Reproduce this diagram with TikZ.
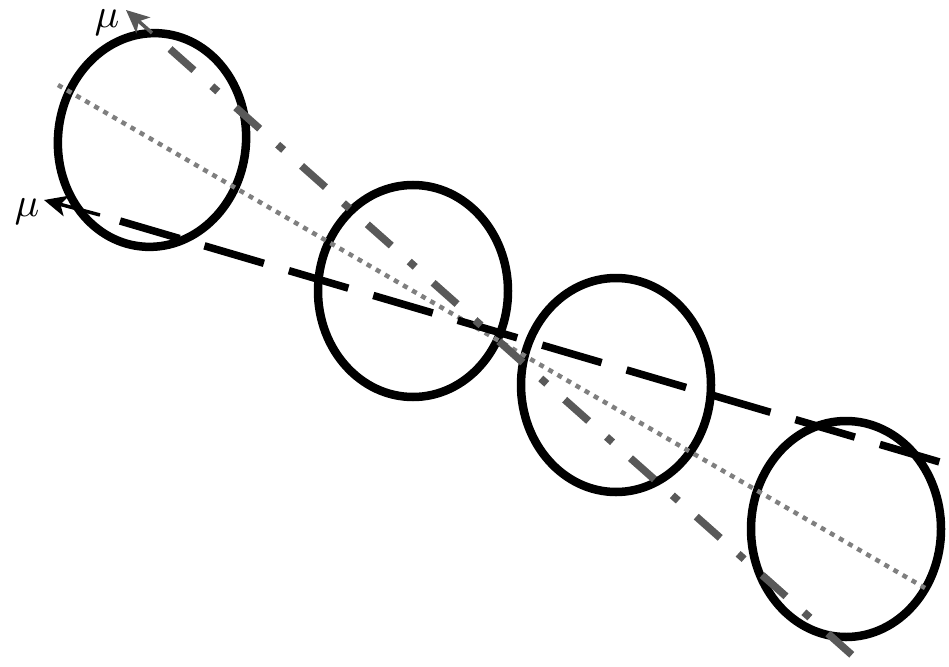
\documentclass[tikz,border=0pt]{standalone}
\usepackage{graphicx}
\usetikzlibrary{arrows.meta}
\definecolor{dgray}{HTML}{595959}
\definecolor{lgray}{HTML}{7F7F7F}
\tikzset{
  ring/.style={draw=black, line width=8.5pt},
  blackdash/.style={draw=black, line width=7.5pt, dash pattern=on 62pt off 26pt},
  graydashdot/.style={draw=dgray, line width=7.5pt, dash pattern=on 32pt off 24pt on 8pt off 24pt},
  graydot/.style={draw=lgray, line width=4.5pt, dash pattern=on 5pt off 5.5pt},
  muarrow/.style={line width=3.5pt, -{Stealth[length=23pt,width=21pt,inset=6pt]}},
  mulabel/.style={inner sep=0pt}
}
\newcommand{\bigmu}{\scalebox{4.1}{$\mu$}}
\begin{document}
\begin{tikzpicture}[x=1pt,y=-1pt]
\useasboundingbox (0,0) rectangle (949,666);
% circles
\draw[ring, rotate around={-6:(152,140)}] (152,140) ellipse [x radius=94, y radius=107];
\draw[ring] (413,291) ellipse [x radius=95, y radius=106];
\draw[ring] (616,385) ellipse [x radius=95, y radius=107];
\draw[ring] (846,529) ellipse [x radius=95, y radius=108];
% coordinates
\coordinate (dotA) at (58,85);
\coordinate (dotB) at (925,588);
\coordinate (bdA) at (120,221);
\coordinate (bdB) at (943,463);
\coordinate (bdS) at (100,215);
\coordinate (bdT) at (44,200);
\coordinate (gdA) at (170,49);
\coordinate (gdB) at (852,655);
\coordinate (gdS) at (152,33);
\coordinate (gdT) at (126,10);
% lines
\draw[graydot] (dotA) -- (dotB);
\draw[blackdash] (bdA) -- (bdB);
\draw[muarrow, draw=black, fill=black] (bdS) -- (bdT);
\draw[graydashdot] (gdA) -- (gdB);
\draw[muarrow, draw=dgray, fill=dgray] (gdS) -- (gdT);
% labels
\node[mulabel] (mu1) at (107,23) {\bigmu};
\node[mulabel] (mu2) at (27,212) {\bigmu};
\end{tikzpicture}
\end{document}
